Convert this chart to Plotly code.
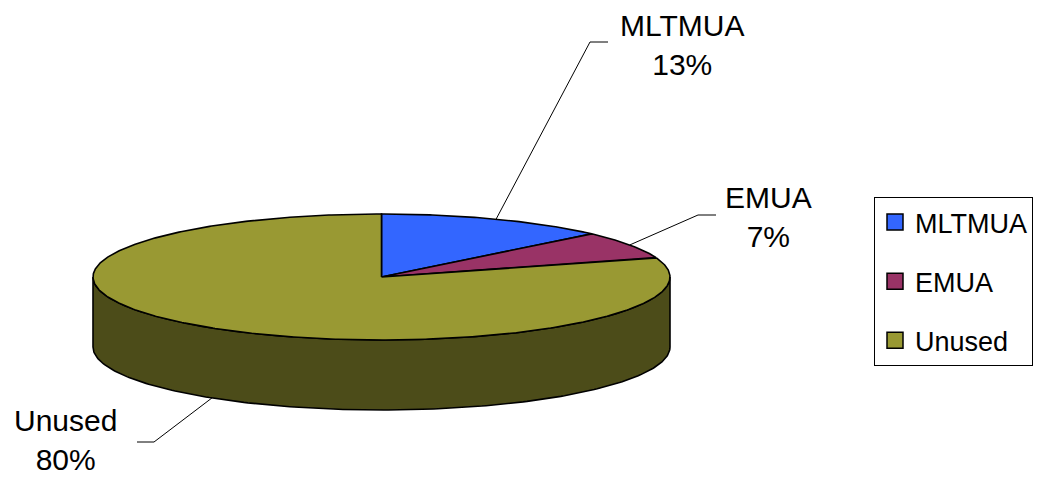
import numpy as np
import plotly.graph_objects as go

# ---- data ----
labels = ["MLTMUA", "EMUA", "Unused"]
values = [13, 7, 80]
colors = ["#3366FF", "#993366", "#999933"]

# ---- geometry / style (pixel-like plot units) ----
W, H = 1042, 478
CX, CY, RX, RY, DEPTH = 381.5, 277.0, 288.5, 63.0, 70.0
FONT = "Liberation Sans, Arial, sans-serif"
# label block centres and leader elbow / end points
label_pos = [(682, 45), (768, 217), (65, 440)]
leader_elbow = [(590, 42), (698, 215), (154, 442)]
leader_end = [(608, 42), (716, 215), (137, 442)]


def darken(hexcol, f=0.5):
    h = hexcol.lstrip("#")
    r, g, b = (int(h[i:i + 2], 16) for i in (0, 2, 4))
    return "#%02X%02X%02X" % (int(r * f), int(g * f), int(b * f))


def rim(theta_deg, dy=0.0):
    t = np.radians(theta_deg)
    return CX + RX * np.sin(t), CY - RY * np.cos(t) + dy


total = float(sum(values))
cum = np.concatenate([[0], np.cumsum(values)]) / total * 360.0

fig = go.Figure()

# side walls (front visible half: 90..270 deg clockwise from top)
for i, lab in enumerate(labels):
    a0, a1 = max(cum[i], 90), min(cum[i + 1], 270)
    if a1 <= a0:
        continue
    th = np.linspace(a0, a1, 200)
    xt, yt = rim(th)
    xb, yb = rim(th[::-1], DEPTH)
    xs = np.concatenate([xt, xb, xt[:1]])
    ys = np.concatenate([yt, yb, yt[:1]])
    fig.add_trace(go.Scatter(x=xs, y=ys, mode="lines", fill="toself",
                             fillcolor=darken(colors[i]),
                             line=dict(color="black", width=1.6),
                             hoverinfo="skip", showlegend=False))

# top faces
for i, lab in enumerate(labels):
    n = max(int((cum[i + 1] - cum[i]) * 2), 10)
    th = np.linspace(cum[i], cum[i + 1], n)
    xa, ya = rim(th)
    xs = np.concatenate([[CX], xa, [CX]])
    ys = np.concatenate([[CY], ya, [CY]])
    fig.add_trace(go.Scatter(x=xs, y=ys, mode="lines", fill="toself",
                             fillcolor=colors[i],
                             line=dict(color="black", width=1.6),
                             name=lab, hoverinfo="skip", showlegend=False))

# leader lines and labels
for i, lab in enumerate(labels):
    mid = (cum[i] + cum[i + 1]) / 2.0
    front = 90 < (mid % 360) < 270
    sx, sy = rim(mid, DEPTH if front else 0.0)
    fig.add_trace(go.Scatter(x=[sx, leader_elbow[i][0], leader_end[i][0]],
                             y=[sy, leader_elbow[i][1], leader_end[i][1]],
                             mode="lines", line=dict(color="black", width=1),
                             hoverinfo="skip", showlegend=False))
    pct = "%d%%" % round(values[i] / total * 100)
    fig.add_annotation(x=label_pos[i][0], y=label_pos[i][1], xref="x", yref="y",
                       text=f"{lab}<br>{pct}", showarrow=False,
                       xanchor="center", yanchor="middle", align="center",
                       font=dict(family=FONT, size=30, color="black"))

# legend entries
for i, lab in enumerate(labels):
    fig.add_trace(go.Scatter(x=[None], y=[None], mode="markers", name=lab,
                             legendgroup=lab,
                             marker=dict(symbol="square", size=16, color=colors[i],
                                         line=dict(color="black", width=1.5))))

fig.update_layout(
    width=W, height=H,
    margin=dict(l=0, r=0, t=0, b=0),
    paper_bgcolor="white", plot_bgcolor="white",
    xaxis=dict(range=[0, W], visible=False, fixedrange=True),
    yaxis=dict(range=[H, 0], visible=False, fixedrange=True),
    showlegend=True,
    legend=dict(x=874 / W, y=1 - 197 / H, xanchor="left", yanchor="top",
                bordercolor="black", borderwidth=1, bgcolor="white",
                font=dict(family=FONT, size=27, color="black"),
                tracegroupgap=21, traceorder="grouped", itemwidth=30),
)

fig.write_html("out.html",
               config={"displayModeBar": False, "staticPlot": True},
               post_script="document.body.style.margin='0';"
                           "document.body.style.overflow='hidden';")
